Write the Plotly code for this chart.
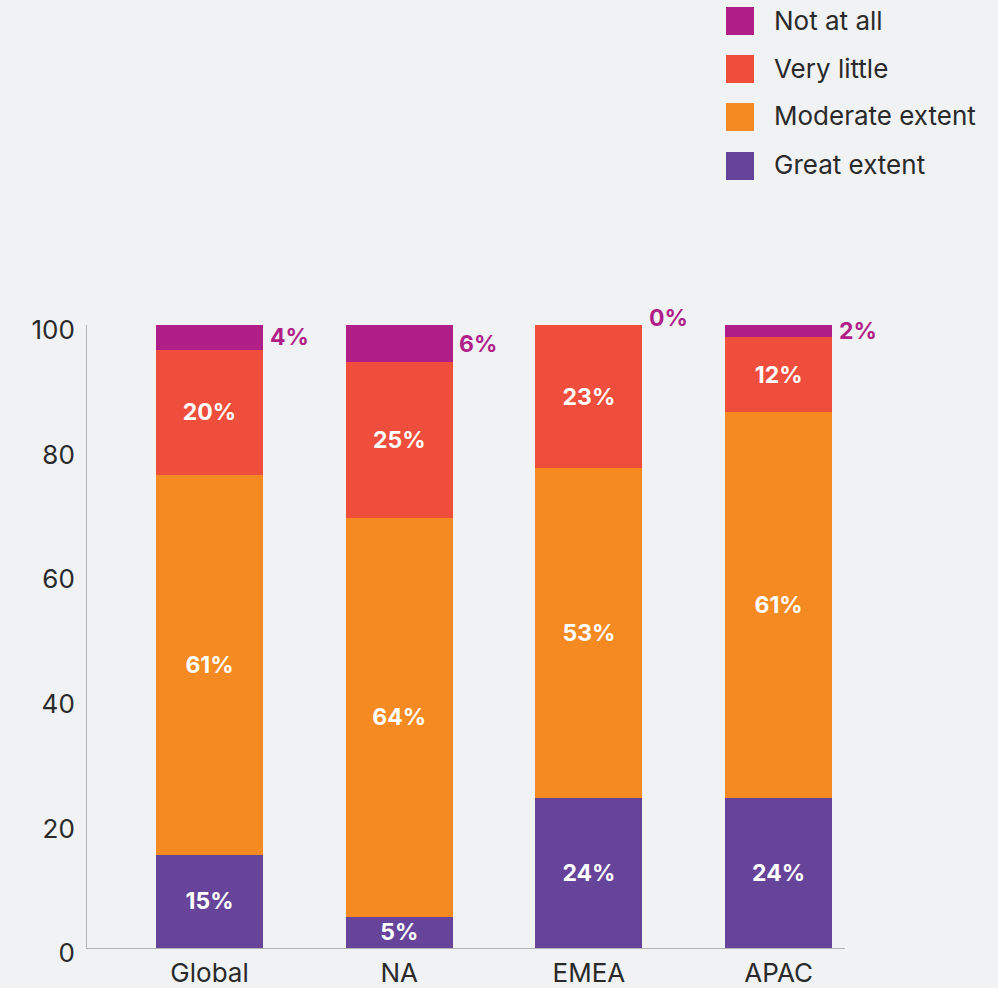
import plotly.graph_objects as go

categories = ["Global", "NA", "EMEA", "APAC"]
series_names = ["Great extent", "Moderate extent", "Very little", "Not at all"]
great_extent = [15, 5, 24, 24]
moderate_extent = [61, 64, 53, 62]
very_little = [20, 25, 23, 12]
not_at_all = [4, 6, 0, 2]
label_great = ["15%", "5%", "24%", "24%"]
label_moderate = ["61%", "64%", "53%", "61%"]
label_little = ["20%", "25%", "23%", "12%"]
label_not = ["4%", "6%", "0%", "2%"]
colors = ["#664499", "#f68a22", "#f04e3c", "#b01e87"]

W, H = 998, 988
ML, MR, MT, MB = 87, 153, 325, 40
PW, PH = W - ML - MR, H - MT - MB
FONT = "Inter, Open Sans, sans-serif"
TXT = "#2a2a2a"

def px2paper_x(px):
    return (px - ML) / PW

def px2paper_y(py):
    return (H - MB - py) / PH

fig = go.Figure()
values = [great_extent, moderate_extent, very_little, not_at_all]
labels = [label_great, label_moderate, label_little, label_not]
for i, (name, vals, labs) in enumerate(zip(series_names, values, labels)):
    inside = i < 3
    fig.add_trace(go.Bar(
        name=name, x=categories, y=vals,
        marker=dict(color=colors[i], line=dict(width=0)),
        width=0.564,
        text=labs if inside else None,
        textposition="inside" if inside else "none",
        insidetextanchor="middle",
        textangle=0,
        constraintext="none",
        textfont=dict(family=FONT, size=23, color="white", weight="bold"),
        showlegend=False,
        hoverinfo="skip",
    ))

# outside labels for "Not at all"
totals = [a + b + c + d for a, b, c, d in zip(great_extent, moderate_extent, very_little, not_at_all)]
for cat, tot, v, lab in zip(categories, totals, not_at_all, label_not):
    fig.add_annotation(
        x=cat, y=tot - v / 2, text=f"<b>{lab}</b>", showarrow=False,
        xanchor="left", yanchor="middle", xshift=58, yshift=7 if v == 0 else 0,
        font=dict(family=FONT, size=23, color=colors[3]),
    )

# manual legend
legend_tops = [7, 55, 103, 152]
for name, color, top in zip(series_names[::-1], colors[::-1], legend_tops):
    fig.add_shape(type="rect", xref="paper", yref="paper",
                  x0=px2paper_x(726), x1=px2paper_x(754),
                  y0=px2paper_y(top + 28), y1=px2paper_y(top),
                  fillcolor=color, line=dict(width=0))
    fig.add_annotation(xref="paper", yref="paper", x=px2paper_x(772),
                       y=px2paper_y(top + 13), text=name, showarrow=False,
                       xanchor="left", yanchor="middle",
                       font=dict(family=FONT, size=26, color=TXT))

fig.update_layout(
    width=W, height=H, barmode="stack",
    margin=dict(l=ML, r=MR, t=MT, b=MB, pad=0, autoexpand=False),
    paper_bgcolor="#f1f2f4", plot_bgcolor="#f1f2f4",
    font=dict(family=FONT, size=26, color=TXT),
    showlegend=False,
)
fig.update_xaxes(range=[-0.646, 3.35], showline=True, linecolor="#b3b3b3", linewidth=1,
                 showgrid=False, ticks="", tickfont=dict(size=26, color=TXT),
                 ticklabelstandoff=2, automargin=False)
fig.update_yaxes(range=[0, 100], tickvals=[0, 20, 40, 60, 80, 100], showline=True,
                 linecolor="#b3b3b3", linewidth=1, showgrid=False, zeroline=False,
                 ticks="", tickfont=dict(size=26, color=TXT), ticklabelstandoff=6,
                 ticklabelshift=5, automargin=False)

fig.write_html("out.html", config={"displayModeBar": False},
               post_script="document.body.style.margin='0';document.body.style.background='#f1f2f4';")
